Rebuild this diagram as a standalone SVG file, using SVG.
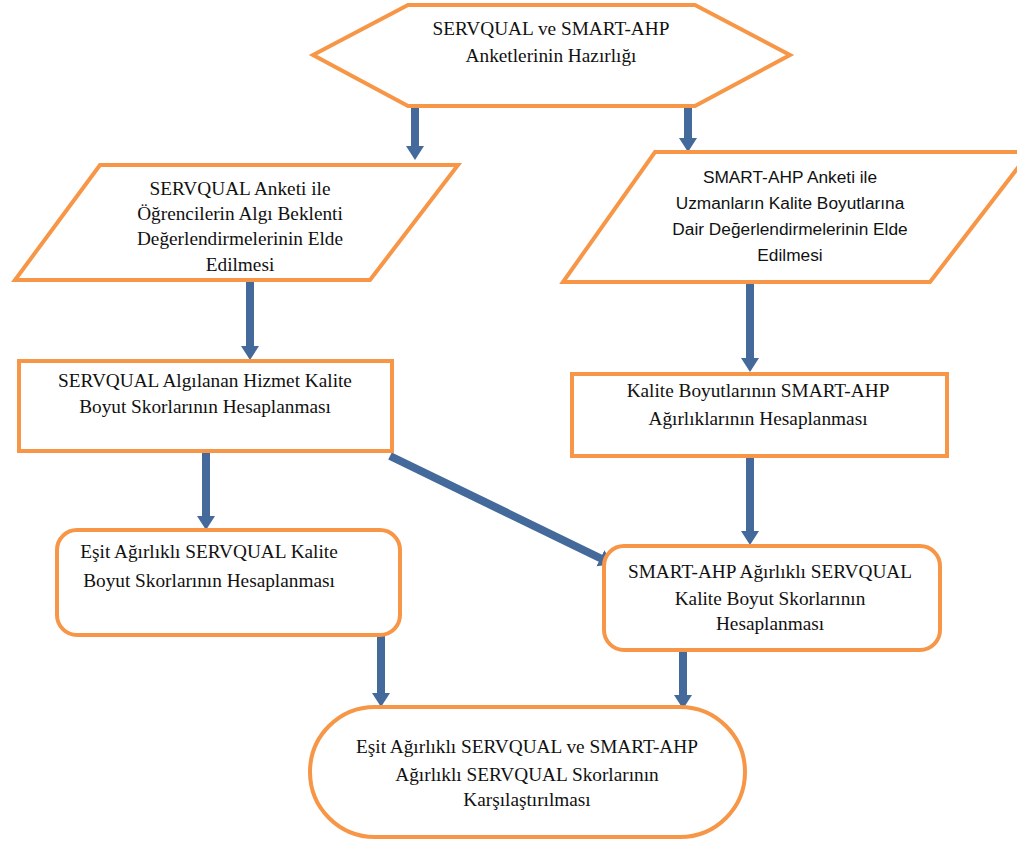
<svg xmlns="http://www.w3.org/2000/svg" width="1017" height="841" viewBox="0 0 1017 841">
<defs>
<marker id="ah" markerUnits="userSpaceOnUse" markerWidth="20" markerHeight="20" viewBox="0 0 20 20" refX="4" refY="10" orient="auto">
<path d="M0,1 L14,10 L0,19 Z" fill="#44699B"/>
</marker>
<style>
.sh{fill:#fff;stroke:#F79646;stroke-width:4;stroke-linejoin:miter}
.t{font-family:'Liberation Serif','DejaVu Serif',serif;font-size:19.3px;fill:#111;text-anchor:middle}
.s{font-family:'Liberation Sans','DejaVu Sans',sans-serif;font-size:17.3px;fill:#111;text-anchor:middle}
.c{stroke:#44699B;stroke-width:8;fill:none;marker-end:url(#ah)}
</style>
</defs>
<rect width="1017" height="841" fill="#fff"/>
<g id="connectors">
<line class="c" x1="415" y1="108" x2="415" y2="150"/>
<line class="c" x1="688" y1="108" x2="688" y2="142"/>
<line class="c" x1="250" y1="282" x2="250" y2="350"/>
<line class="c" x1="750" y1="284" x2="750" y2="362"/>
<line class="c" x1="206" y1="451" x2="206" y2="520"/>
<line class="c" x1="390" y1="456" x2="604" y2="560"/>
<line class="c" x1="750" y1="456" x2="750" y2="535"/>
<line class="c" x1="381" y1="635" x2="381" y2="697"/>
<line class="c" x1="683" y1="650" x2="683" y2="699"/>
</g>
<g id="n1">
<polygon class="sh" points="408,5 695,5 790,55 695,106 408,106 313,55"/>
<text class="t" x="551" y="35">SERVQUAL ve SMART-AHP</text>
<text class="t" x="551" y="62">Anketlerinin Hazırlığı</text>
</g>
<g id="n2">
<polygon class="sh" points="100,165 458,165 370,280 15,280"/>
<text class="t" x="240" y="195">SERVQUAL Anketi ile</text>
<text class="t" x="240" y="220">Öğrencilerin Algı Beklenti</text>
<text class="t" x="240" y="245">Değerlendirmelerinin Elde</text>
<text class="t" x="240" y="271">Edilmesi</text>
</g>
<g id="n3">
<polygon class="sh" points="655,152 1030,152 930,282 563,282"/>
<text class="s" x="790" y="183">SMART-AHP Anketi ile</text>
<text class="s" x="790" y="209">Uzmanların Kalite Boyutlarına</text>
<text class="s" x="790" y="235">Dair Değerlendirmelerinin Elde</text>
<text class="s" x="790" y="261">Edilmesi</text>
</g>
<g id="n4">
<rect class="sh" x="19" y="361" width="373" height="90"/>
<text class="t" x="205" y="387">SERVQUAL Algılanan Hizmet Kalite</text>
<text class="t" x="205" y="413">Boyut Skorlarının Hesaplanması</text>
</g>
<g id="n5">
<rect class="sh" x="572" y="374" width="375" height="82"/>
<text class="t" x="758" y="397">Kalite Boyutlarının SMART-AHP</text>
<text class="t" x="758" y="425">Ağırlıklarının Hesaplanması</text>
</g>
<g id="n6">
<rect class="sh" x="57" y="530" width="343" height="105" rx="20" ry="20"/>
<text class="t" x="209" y="558">Eşit Ağırlıklı SERVQUAL Kalite</text>
<text class="t" x="209" y="587">Boyut Skorlarının Hesaplanması</text>
</g>
<g id="n7">
<rect class="sh" x="604" y="546" width="336" height="104" rx="20" ry="20"/>
<text class="t" x="770" y="578">SMART-AHP Ağırlıklı SERVQUAL</text>
<text class="t" x="770" y="605">Kalite Boyut Skorlarının</text>
<text class="t" x="770" y="630">Hesaplanması</text>
</g>
<g id="n8">
<rect class="sh" x="310" y="707" width="435" height="130" rx="65" ry="65"/>
<text class="t" x="527" y="753">Eşit Ağırlıklı SERVQUAL ve SMART-AHP</text>
<text class="t" x="527" y="781">Ağırlıklı SERVQUAL Skorlarının</text>
<text class="t" x="527" y="806">Karşılaştırılması</text>
</g>
</svg>
